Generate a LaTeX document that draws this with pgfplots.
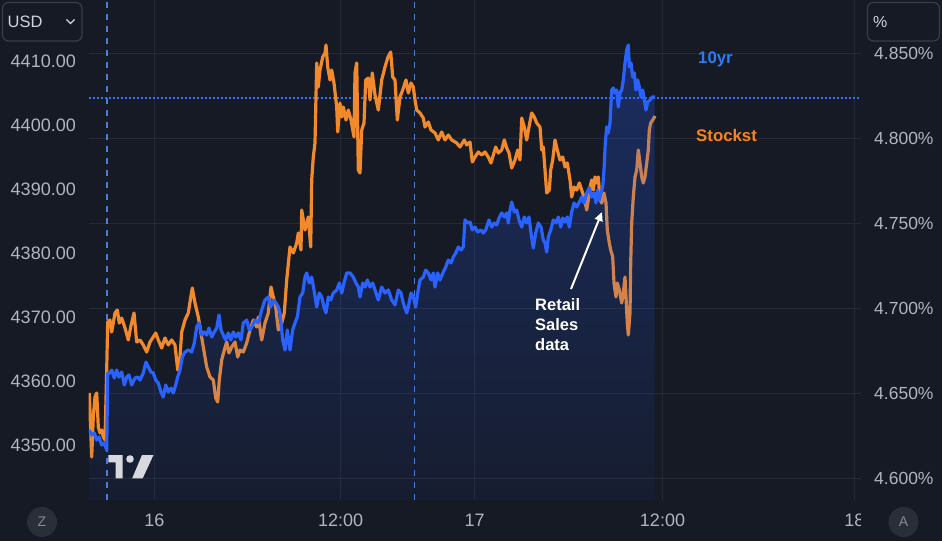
\documentclass[border=0pt]{standalone}
\usepackage{pgfplots}
\pgfplotsset{compat=1.18}
\usepackage{pgfplotstable}
\usepackage{fontspec}
\setmainfont{Liberation Sans}
\usetikzlibrary{arrows.meta,fadings}
\definecolor{bg}{HTML}{161A25}
\definecolor{gridc}{HTML}{262A35}
\definecolor{tickc}{HTML}{B2B5BE}
\definecolor{orangeL}{HTML}{F2892B}
\definecolor{blueL}{HTML}{2962FF}
\definecolor{dotc}{HTML}{3470FF}
\definecolor{blueT}{HTML}{2A7DF5}
\definecolor{orangeT}{HTML}{F7841E}
\definecolor{dashc}{HTML}{4A7FD9}
\definecolor{boxc}{HTML}{393D48}
\definecolor{btnc}{HTML}{2A2E39}
\definecolor{btntxt}{HTML}{868993}
\definecolor{logoc}{HTML}{D8D9DE}
\definecolor{whitet}{HTML}{D1D4DC}
\tikzfading[name=areafade, top color=transparent!72, bottom color=transparent!95]

\pgfplotstableread{
x v
89.3 4358.13
91.7 4348.13
93.3 4354.38
95.0 4357.50
96.7 4358.13
98.3 4352.81
100.0 4351.88
101.7 4352.34
103.3 4351.25
105.0 4350.78
106.7 4361.72
107.7 4369.22
110.0 4369.53
111.7 4367.66
115.0 4370.63
117.3 4371.09
119.3 4369.06
121.7 4369.84
125.0 4368.28
128.3 4366.41
130.7 4368.44
134.0 4370.63
136.7 4366.09
140.0 4366.41
143.3 4365.63
146.7 4364.53
150.0 4366.09
153.3 4366.88
155.7 4367.50
158.3 4366.41
161.7 4365.16
165.0 4366.72
168.3 4365.63
171.7 4366.41
175.0 4365.63
177.7 4361.72
180.0 4363.75
181.7 4367.66
185.0 4369.53
188.3 4370.63
190.0 4372.34
192.3 4374.53
195.0 4372.19
198.3 4370.00
200.0 4368.44
203.3 4365.31
206.7 4362.19
210.0 4360.63
213.3 4360.16
215.7 4357.34
217.7 4356.72
219.3 4360.16
221.7 4363.28
224.3 4364.84
226.7 4366.09
229.0 4364.38
231.7 4365.31
235.0 4366.09
237.7 4363.75
240.0 4364.84
243.3 4364.53
246.7 4365.94
250.0 4367.97
253.3 4369.53
256.7 4368.44
258.3 4370.00
261.7 4366.41
265.0 4369.06
268.3 4370.63
271.0 4374.69
273.3 4373.13
275.7 4371.56
278.3 4367.97
281.7 4369.06
284.3 4370.63
286.7 4375.78
290.0 4380.94
293.3 4380.00
296.7 4381.56
298.3 4383.13
301.0 4380.47
301.7 4386.72
305.0 4383.59
308.3 4385.63
310.7 4380.94
311.7 4391.41
313.3 4395.00
315.0 4397.19
316.7 4409.69
318.3 4405.94
320.0 4408.59
322.7 4410.63
325.0 4411.25
326.0 4412.50
327.7 4409.06
330.0 4407.03
331.7 4408.59
334.0 4406.56
336.7 4402.81
337.7 4398.91
340.0 4403.44
341.7 4401.25
343.3 4402.81
346.0 4400.78
348.3 4402.34
351.0 4400.78
354.0 4398.13
355.0 4408.13
356.7 4409.69
358.3 4392.97
360.0 4392.50
361.7 4399.22
364.0 4400.31
365.7 4407.03
368.3 4407.34
370.0 4403.91
372.3 4408.13
375.0 4404.69
378.3 4402.34
381.7 4407.03
385.0 4409.06
388.0 4410.63
390.7 4411.41
392.7 4407.50
395.0 4407.03
397.3 4400.78
400.0 4404.38
402.7 4405.47
406.0 4407.03
408.3 4405.00
411.0 4406.56
413.3 4405.94
415.0 4403.91
416.7 4402.34
420.0 4401.88
423.3 4401.09
425.0 4399.69
428.3 4400.47
431.0 4399.22
435.0 4398.75
438.3 4397.66
441.7 4398.91
445.0 4397.66
448.3 4398.44
451.7 4397.66
456.7 4397.19
460.0 4396.56
464.3 4397.66
466.7 4396.88
470.0 4397.34
472.3 4394.22
475.0 4395.00
478.3 4395.78
481.7 4395.31
485.0 4395.78
488.3 4395.00
491.0 4394.06
493.3 4395.31
495.7 4396.56
498.3 4395.63
501.7 4396.09
504.3 4397.66
506.7 4396.41
509.0 4395.63
511.7 4393.28
515.0 4394.53
517.7 4396.09
520.0 4394.53
521.7 4401.09
524.3 4399.69
526.7 4397.66
529.0 4399.69
531.7 4401.88
534.3 4401.25
536.7 4400.31
540.0 4399.69
541.7 4396.09
543.3 4396.56
545.0 4392.97
546.7 4389.38
549.3 4389.84
550.7 4392.97
552.7 4394.53
555.0 4397.66
557.3 4396.09
560.0 4394.53
562.7 4395.00
565.0 4393.44
567.3 4394.06
570.0 4391.41
571.7 4388.75
574.0 4390.31
576.7 4389.84
579.3 4390.94
581.7 4389.84
584.0 4388.75
586.7 4386.72
588.3 4388.28
590.0 4390.31
591.7 4391.41
593.3 4389.84
595.0 4391.88
596.7 4390.94
598.3 4391.88
600.0 4388.28
601.7 4387.81
604.0 4389.38
606.0 4387.81
607.3 4383.59
609.3 4381.56
610.7 4380.47
612.7 4379.38
614.0 4375.31
616.0 4373.13
617.3 4375.31
619.3 4374.22
621.7 4372.19
623.3 4373.75
625.0 4376.25
626.0 4373.13
627.3 4369.06
628.3 4367.19
630.0 4370.63
630.7 4378.44
631.7 4384.69
633.3 4388.75
635.0 4391.88
636.7 4392.97
638.3 4396.09
640.0 4394.06
641.7 4391.88
643.3 4390.94
645.0 4391.88
646.7 4394.06
648.3 4396.09
649.3 4399.22
650.7 4400.31
652.7 4400.78
655.0 4401.41
}\stocktable

\pgfplotstableread{
x r
89.3 4.6285
91.7 4.6256
94.3 4.6268
96.7 4.6226
99.0 4.6244
101.7 4.6197
104.3 4.6209
106.7 4.6168
107.7 4.6621
110.0 4.6621
111.7 4.6638
114.3 4.6591
116.7 4.6638
119.0 4.6597
121.7 4.6626
124.3 4.6550
126.7 4.6597
129.0 4.6609
131.7 4.6550
135.0 4.6591
137.7 4.6597
140.0 4.6579
143.3 4.6621
146.0 4.6685
148.3 4.6656
151.0 4.6626
153.3 4.6621
155.7 4.6579
158.3 4.6562
161.0 4.6509
163.3 4.6479
165.7 4.6550
168.3 4.6509
171.0 4.6532
173.3 4.6503
175.7 4.6550
177.7 4.6597
180.0 4.6638
182.3 4.6715
185.0 4.6744
188.3 4.6756
191.7 4.6744
194.3 4.6797
196.7 4.6891
199.0 4.6915
201.7 4.6844
204.3 4.6862
206.7 4.6844
209.0 4.6885
211.7 4.6832
214.3 4.6862
216.7 4.6885
219.0 4.6962
221.0 4.6874
223.3 4.6844
225.7 4.6815
228.3 4.6856
230.7 4.6815
233.3 4.6862
235.7 4.6832
238.3 4.6856
241.0 4.6815
243.3 4.6915
246.7 4.6932
249.3 4.6874
251.7 4.6891
255.0 4.6932
258.3 4.6915
261.7 4.6991
265.0 4.7050
268.3 4.7068
270.7 4.7009
273.3 4.7050
276.0 4.7032
278.3 4.7009
280.0 4.6974
282.7 4.6815
285.0 4.6756
287.3 4.6874
290.0 4.6756
292.7 4.6874
295.0 4.6915
297.3 4.6950
300.0 4.7068
302.7 4.7091
305.0 4.7185
306.7 4.7209
309.3 4.7150
311.7 4.7185
314.0 4.7109
316.7 4.7009
319.3 4.7091
321.7 4.7068
324.0 4.7009
326.0 4.6974
328.3 4.7068
330.7 4.7050
333.3 4.7091
336.7 4.7109
339.3 4.7150
341.7 4.7091
344.0 4.7150
346.7 4.7209
350.0 4.7209
353.3 4.7185
356.0 4.7150
358.3 4.7126
360.0 4.7068
362.7 4.7150
365.0 4.7126
367.3 4.7168
370.0 4.7126
372.7 4.7150
375.0 4.7109
378.3 4.7050
381.7 4.7126
385.0 4.7091
388.3 4.7109
391.7 4.7050
395.0 4.7021
398.3 4.7109
401.0 4.7091
403.3 4.7032
406.7 4.6974
408.3 4.7009
411.0 4.7091
413.3 4.7068
415.7 4.7009
417.7 4.7091
420.0 4.7168
423.3 4.7185
425.7 4.7226
428.3 4.7209
431.0 4.7168
433.3 4.7209
435.0 4.7126
437.7 4.7209
440.0 4.7168
443.3 4.7215
445.7 4.7244
448.3 4.7285
451.0 4.7268
453.3 4.7303
455.7 4.7326
458.3 4.7362
461.0 4.7344
463.3 4.7362
465.0 4.7521
467.7 4.7503
470.0 4.7509
472.3 4.7462
475.0 4.7479
477.7 4.7450
481.0 4.7462
483.3 4.7444
485.7 4.7462
489.0 4.7521
491.7 4.7479
494.3 4.7503
496.7 4.7491
499.0 4.7532
501.7 4.7562
504.3 4.7538
506.7 4.7562
508.3 4.7503
510.0 4.7579
511.7 4.7626
514.3 4.7568
516.7 4.7579
519.0 4.7521
521.7 4.7479
524.3 4.7538
526.7 4.7503
529.0 4.7538
531.0 4.7444
533.3 4.7356
535.7 4.7444
538.3 4.7503
541.0 4.7479
543.3 4.7403
545.0 4.7385
546.7 4.7332
548.3 4.7421
550.7 4.7462
553.3 4.7521
556.0 4.7503
558.3 4.7538
560.7 4.7479
562.7 4.7532
565.0 4.7509
567.3 4.7538
569.3 4.7479
571.7 4.7568
574.0 4.7621
576.7 4.7597
579.3 4.7626
581.7 4.7656
584.0 4.7621
586.7 4.7679
589.3 4.7709
591.7 4.7656
594.0 4.7679
596.0 4.7621
597.3 4.7697
599.3 4.7638
600.7 4.7679
602.7 4.7715
604.0 4.7815
605.3 4.7974
606.7 4.8068
608.3 4.8032
610.0 4.8091
611.7 4.8285
613.3 4.8297
615.0 4.8268
616.7 4.8285
618.3 4.8185
620.0 4.8268
621.7 4.8285
623.3 4.8344
625.0 4.8444
626.7 4.8521
628.3 4.8550
629.3 4.8421
631.0 4.8444
632.7 4.8362
634.3 4.8385
636.0 4.8285
637.7 4.8344
639.3 4.8303
641.0 4.8244
642.7 4.8285
644.3 4.8227
646.0 4.8168
647.7 4.8215
650.0 4.8227
652.3 4.8244
655.0 4.8244
}\yieldtable

\pgfplotsset{base/.style={
  at={(88.5pt,41pt)}, anchor=south west, scale only axis,
  width=772pt, height=500pt, xmin=88.5, xmax=860.5,
  axis line style={draw=none}, major tick length=0pt, tick style={draw=none},
  ticklabel style={font=\fontsize{18}{20}\selectfont, text=tickc, inner sep=0pt},
  clip=true}}

\begin{document}
\begin{tikzpicture}[x=1pt,y=1pt]
\fill[bg] (0,0) rectangle (942,541);

% grid + right scale + time axis
\begin{axis}[base, ymin=4.587353, ymax=4.881471,
  ytick={4.60,4.65,4.70,4.75,4.80,4.85},
  yticklabels={4.600\%,4.650\%,4.700\%,4.750\%,4.800\%,4.850\%},
  yticklabel pos=right,
  yticklabel style={anchor=west, xshift=13.5pt, font=\fontsize{17.5}{20}\selectfont},
  xtick={154.4,340.6,474.6,662.5,854.3},
  xticklabels={16,12:00,17,12:00,18},
  xticklabel style={anchor=center, yshift=-20pt},
  grid=major, major grid style={gridc, line width=1pt}]
\addplot[dashc, line width=1.3pt, dash pattern=on 6pt off 6pt] coordinates {(106.9,4.5874) (106.9,4.8815)};
\addplot[dashc, line width=1.3pt, dash pattern=on 6pt off 6pt] coordinates {(414.5,4.5874) (414.5,4.8815)};
\addplot[dotc, line width=1.8pt, dash pattern=on 2.2pt off 1.8pt] coordinates {(88.5,4.8236) (860.5,4.8236)};
\end{axis}

% stock (left scale)
\begin{axis}[base, ymin=4341.40625, ymax=4419.53125,
  ytick={4350,4360,4370,4380,4390,4400,4410},
  yticklabels={4350.00,4360.00,4370.00,4380.00,4390.00,4400.00,4410.00},
  yticklabel style={anchor=east, xshift=-12.5pt},
  xtick=\empty]
\addplot[orangeL, line width=3.2pt, line join=round] table[x=x, y=v] {\stocktable};
\end{axis}

% 10yr yield area + line
\begin{axis}[base, ymin=4.587353, ymax=4.881471, xtick=\empty, ytick=\empty]
\addplot[draw=none, fill=blueL, path fading=areafade] table[x=x, y=r] {\yieldtable}
  -- (axis cs:655,4.587353) -- (axis cs:89.3,4.587353) -- cycle;
\addplot[blueL, line width=3.2pt, line join=round] table[x=x, y=r] {\yieldtable};
\end{axis}

% cover clipped part of last time label
\fill[bg] (860.5,0) rectangle (942,41);

% series labels
\node[anchor=base west, inner sep=0, font=\bfseries\fontsize{16.8}{20}\selectfont, text=blueT] at (698,477) {10yr};
\node[anchor=base west, inner sep=0, font=\bfseries\fontsize{16.8}{20}\selectfont, text=orangeT] at (696,399.5) {Stockst};

% annotation
\node[anchor=north west, align=left, inner sep=0, font=\bfseries\fontsize{16.5}{20}\selectfont, text=white] at (535,242.5) {Retail\\Sales\\data};
\draw[white, line width=2pt, -{Triangle[length=9pt,width=8pt]}] (571,252) -- (602,329);

% logo
\fill[logoc] (108.3,86) -- (122.7,86) -- (122.7,62.7) -- (115.7,62.7) -- (115.7,78.7) -- (108.3,78.7) -- cycle;
\fill[logoc] (130,82) circle (3.8);
\fill[logoc] (142,86) -- (153.5,86) -- (142.7,62.7) -- (132.2,62.7) -- cycle;

% top boxes
\draw[boxc, line width=1.2pt, rounded corners=6pt, fill=bg] (2.5,500) rectangle (82,538.5);
\node[anchor=base west, inner sep=0, font=\fontsize{16.5}{20}\selectfont, text=whitet] at (7.5,513.7) {USD};
\draw[whitet, line width=1.3pt] (66.5,521.5) -- (70.5,517.5) -- (74.5,521.5);
\draw[boxc, line width=1.2pt, rounded corners=6pt, fill=bg] (867.5,500) rectangle (939.5,538.5);
\node[anchor=base west, inner sep=0, font=\fontsize{16}{20}\selectfont, text=whitet] at (873,513) {\%};

% bottom buttons
\fill[btnc] (42,19) circle (15);
\node[font=\fontsize{14}{16}\selectfont, text=btntxt] at (42,19) {Z};
\fill[btnc] (903.5,19) circle (15);
\node[font=\fontsize{14}{16}\selectfont, text=btntxt] at (903.5,19) {A};

\pgfresetboundingbox
\useasboundingbox (0,0) rectangle (942,541);
\end{tikzpicture}
\end{document}
